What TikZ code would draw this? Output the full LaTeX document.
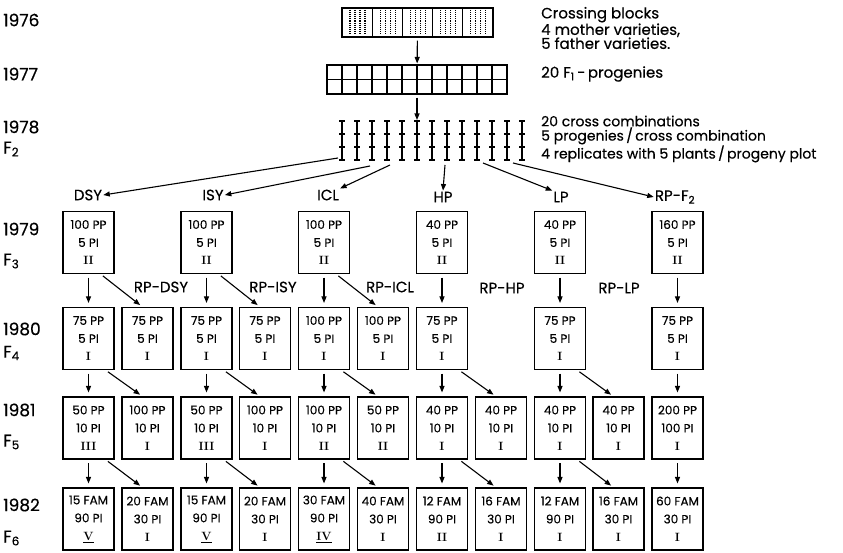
\documentclass[tikz,border=0pt]{standalone}
\usepackage{fontspec}
\setsansfont{Poppins}[UprightFeatures={FakeBold=0.4}]
\usetikzlibrary{arrows.meta}
\newcommand{\gen}[1]{{\rmfamily\bfseries #1}}
\tikzset{
  yearlabel/.style={anchor=west, inner sep=0pt, font=\sffamily\fontsize{17}{17}\selectfont},
  notetext/.style={anchor=west, align=left, inner sep=0pt, font=\sffamily\fontsize{15}{14}\selectfont},
  catlabel/.style={inner sep=1pt, font=\sffamily\fontsize{15}{15}\selectfont},
  plotbox/.style={draw, line width=1.1pt, minimum width=51pt, minimum height=62pt, inner sep=0pt, align=center, font=\sffamily\fontsize{12}{18}\selectfont},
  arr/.style={line width=1.1pt, -{Triangle[length=6.5pt,width=5pt]}},
  godown/.style={arr, shorten <=3.5pt, shorten >=4pt},
  goside/.style={arr, shorten <=3pt, shorten >=3pt}
}

\begin{document}
\begin{tikzpicture}[x=1pt, y=-1pt]
  \useasboundingbox (0,0) rectangle (843,553);

  % years and generations
  \node[yearlabel] (y76) at (3,20) {1976};
  \node[yearlabel] (y77) at (3,74) {1977};
  \node[yearlabel] (y78) at (3,127) {1978};
  \node[yearlabel] (f2) at (3,149) {F\textsubscript{2}};
  \node[yearlabel] (y79) at (3,229) {1979};
  \node[yearlabel] (f3) at (3,261) {F\textsubscript{3}};
  \node[yearlabel] (y80) at (3,329) {1980};
  \node[yearlabel] (f4) at (3,353) {F\textsubscript{4}};
  \node[yearlabel] (y81) at (3,410) {1981};
  \node[yearlabel] (f5) at (3,442) {F\textsubscript{5}};
  \node[yearlabel] (y82) at (3,505) {1982};
  \node[yearlabel] (f6) at (3,538) {F\textsubscript{6}};

  % crossing blocks
  \node[draw, line width=1.1pt, minimum width=151pt, minimum height=29pt, inner sep=0pt] (cross) at (417.5,22.5) {};
  \foreach \s in {1,...,4} \draw[line width=1.1pt] (342+30.2*\s,8) -- ++(0,29);
  \foreach \s in {0,...,4} \foreach \d in {8,13,18,23}
    \draw[densely dotted, line width=1.1pt] (342+30.2*\s+\d,10) -- ++(0,24);
  \node[notetext] (crosstxt) at (541,28) {Crossing blocks\\4 mother varieties,\\5 father varieties.};

  % F1 progenies
  \node[draw, line width=1.1pt, minimum width=180pt, minimum height=29pt, inner sep=0pt] (prog) at (417,79.5) {};
  \draw[line width=1.1pt] (327,79.5) -- (507,79.5);
  \foreach \k in {1,...,11} \draw[line width=1.1pt] (327+15*\k,65) -- ++(0,29);
  \node[notetext] (progtxt) at (541,74) {20 F\textsubscript{1}\,-\,progenies};
  \draw[arr, shorten <=3pt, shorten >=1pt] (cross) -- (prog);

  % F2 cross combinations
  \coordinate (bartop) at (417,120);
  \foreach \k in {0,...,12} {
    \draw[line width=1.1pt] (342+15*\k,121) -- ++(0,39);
    \foreach \t in {121,134,147,160} \draw[line width=1.1pt] (339+15*\k,\t) -- ++(6,0);
  }
  \draw[arr, shorten <=3pt] (prog) -- (bartop);
  \node[notetext, font=\sffamily\fontsize{14}{13}\selectfont] (f2txt) at (541,139) {20 cross combinations\\5 progenies\,/\,cross combination\\4 replicates with 5 plants\,/\,progeny plot};

  % selection groups
  \node[catlabel] (dsy) at (88,195) {DSY};
  \node[catlabel] (isy) at (213,195) {ISY};
  \node[catlabel] (icl) at (328,195) {ICL};
  \node[catlabel] (hp) at (443,197) {HP};
  \node[catlabel] (lp) at (561,197) {LP};
  \node[catlabel] (rpf) at (675,197) {RP-F\textsubscript{2}};
  \coordinate (sdsy) at (338,158);
  \coordinate (sisy) at (370,166);
  \coordinate (sicl) at (390,165);
  \coordinate (shp) at (445,165);
  \coordinate (slp) at (483,163);
  \coordinate (srpf) at (513,163);
  \draw[arr] (sdsy) -- (dsy.east);
  \draw[arr] (sisy) -- (isy.east);
  \draw[arr] (sicl) -- (icl.north east);
  \draw[arr] (shp) -- (hp.north);
  \draw[arr] (slp) -- (lp.north west);
  \draw[arr] (srpf) -- (rpf.west);

  % 1979 F3
  \node[plotbox] (g3c0) at (88.5,242.5) {100 PP\\5 PI\\\gen{II}};
  \node[plotbox] (g3c2) at (206.5,242.5) {100 PP\\5 PI\\\gen{II}};
  \node[plotbox] (g3c4) at (324,242.5) {100 PP\\5 PI\\\gen{II}};
  \node[plotbox] (g3c6) at (442,242.5) {40 PP\\5 PI\\\gen{II}};
  \node[plotbox] (g3c8) at (560,242.5) {40 PP\\5 PI\\\gen{II}};
  \node[plotbox] (g3c10) at (677.5,242.5) {160 PP\\5 PI\\\gen{II}};

  \node[catlabel] (rpdsy) at (161,287) {RP-DSY};
  \node[catlabel] (rpisy) at (273,287) {RP-ISY};
  \node[catlabel] (rpicl) at (390,287) {RP-ICL};
  \node[catlabel] (rphp) at (502,288) {RP-HP};
  \node[catlabel] (rplp) at (619,288) {RP-LP};

  % 1980 F4
  \node[plotbox] (g4c0) at (88.5,338.5) {75 PP\\5 PI\\\gen{I}};
  \node[plotbox] (g4c1) at (147.5,338.5) {75 PP\\5 PI\\\gen{I}};
  \node[plotbox] (g4c2) at (206.5,338.5) {75 PP\\5 PI\\\gen{I}};
  \node[plotbox] (g4c3) at (265,338.5) {75 PP\\5 PI\\\gen{I}};
  \node[plotbox] (g4c4) at (324,338.5) {100 PP\\5 PI\\\gen{I}};
  \node[plotbox] (g4c5) at (383,338.5) {100 PP\\5 PI\\\gen{I}};
  \node[plotbox] (g4c6) at (442,338.5) {75 PP\\5 PI\\\gen{I}};
  \node[plotbox] (g4c8) at (560,338.5) {75 PP\\5 PI\\\gen{I}};
  \node[plotbox] (g4c10) at (677.5,338.5) {75 PP\\5 PI\\\gen{I}};

  % 1981 F5
  \node[plotbox] (g5c0) at (88.5,428) {50 PP\\10 PI\\\gen{III}};
  \node[plotbox] (g5c1) at (147.5,428) {100 PP\\10 PI\\\gen{I}};
  \node[plotbox] (g5c2) at (206.5,428) {50 PP\\10 PI\\\gen{III}};
  \node[plotbox] (g5c3) at (265,428) {100 PP\\10 PI\\\gen{I}};
  \node[plotbox] (g5c4) at (324,428) {100 PP\\10 PI\\\gen{II}};
  \node[plotbox] (g5c5) at (383,428) {50 PP\\10 PI\\\gen{II}};
  \node[plotbox] (g5c6) at (442,428) {40 PP\\10 PI\\\gen{I}};
  \node[plotbox] (g5c7) at (501,428) {40 PP\\10 PI\\\gen{I}};
  \node[plotbox] (g5c8) at (560,428) {40 PP\\10 PI\\\gen{I}};
  \node[plotbox] (g5c9) at (618.5,428) {40 PP\\10 PI\\\gen{I}};
  \node[plotbox] (g5c10) at (677.5,428) {200 PP\\100 PI\\\gen{I}};

  % 1982 F6
  \node[plotbox] (g6c0) at (88.5,519) {15 FAM\\90 PI\\\gen{\underline{V}}};
  \node[plotbox] (g6c1) at (147.5,519) {20 FAM\\30 PI\\\gen{I}};
  \node[plotbox] (g6c2) at (206.5,519) {15 FAM\\90 PI\\\gen{\underline{V}}};
  \node[plotbox] (g6c3) at (265,519) {20 FAM\\30 PI\\\gen{I}};
  \node[plotbox] (g6c4) at (324,519) {30 FAM\\90 PI\\\gen{\underline{IV}}};
  \node[plotbox] (g6c5) at (383,519) {40 FAM\\30 PI\\\gen{I}};
  \node[plotbox] (g6c6) at (442,519) {12 FAM\\90 PI\\\gen{II}};
  \node[plotbox] (g6c7) at (501,519) {16 FAM\\30 PI\\\gen{I}};
  \node[plotbox] (g6c8) at (560,519) {12 FAM\\90 PI\\\gen{I}};
  \node[plotbox] (g6c9) at (618.5,519) {16 FAM\\30 PI\\\gen{I}};
  \node[plotbox] (g6c10) at (677.5,519) {60 FAM\\30 PI\\\gen{I}};

  % arrows between generations
  \foreach \c in {0,2,4,6,8,10} \draw[godown] (g3c\c) -- (g4c\c);
  \foreach \a/\b in {0/1,2/3,4/5}
    \draw[goside] ([xshift=12pt]g3c\a.south) -- ([xshift=-5pt]g4c\b.north);
  \foreach \c in {0,2,4,6,8,10} \draw[godown] (g4c\c) -- (g5c\c);
  \foreach \a/\b in {0/1,2/3,4/5,6/7,8/9}
    \draw[goside] ([xshift=17pt]g4c\a.south) -- ([xshift=-5pt]g5c\b.north);
  \foreach \c in {0,2,4,6,8,10} \draw[godown] (g5c\c) -- (g6c\c);
  \foreach \a/\b in {0/1,2/3,4/5,6/7,8/9}
    \draw[goside] ([xshift=17pt]g5c\a.south) -- ([xshift=-5pt]g6c\b.north);
\end{tikzpicture}
\end{document}
